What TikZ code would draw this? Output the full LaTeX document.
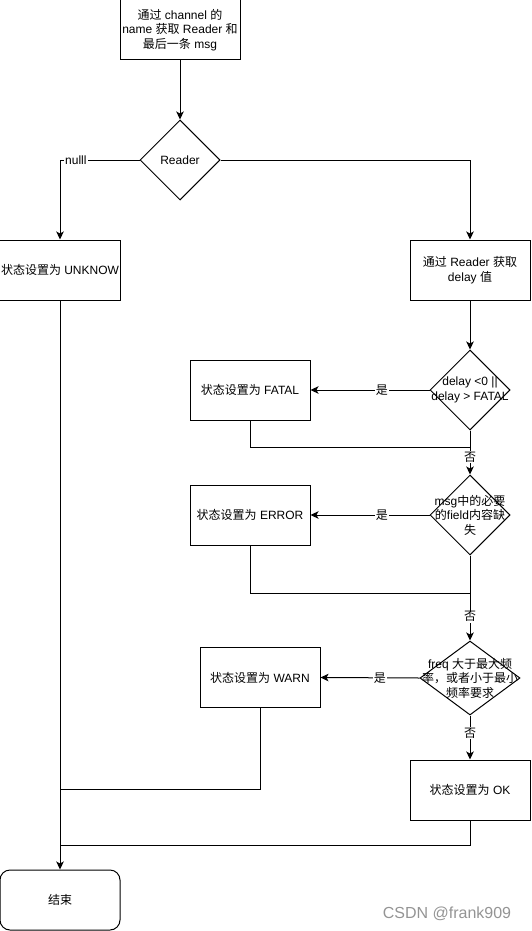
\documentclass[tikz,border=0pt]{standalone}
\usepackage{fontspec}
\setmainfont{Liberation Sans}
\newfontfamily\cjk{Noto Sans CJK SC}
\newcommand\zh[1]{{\cjk #1}}
\usetikzlibrary{shapes.geometric,arrows.meta}
\begin{document}
\begin{tikzpicture}[x=1pt,y=-1pt,
  font=\fontsize{12}{14.5}\selectfont,
  line width=1pt,
  >={Stealth[length=8pt,width=7.5pt,inset=2pt]},
  box/.style={draw, minimum width=120pt, minimum height=60pt, inner sep=2pt, align=center},
  dia/.style={draw, diamond, inner sep=0pt, minimum width=80pt, minimum height=80pt},
  txt/.style={align=center, inner sep=0pt},
  lbl/.style={fill=white, inner sep=1pt}]
\useasboundingbox (0,0) rectangle (531,931);
\node[box] (start) at (180,30) {\zh{通过} channel \zh{的}\\name \zh{获取} Reader \zh{和}\\\zh{最后一条} msg};
\node[dia] (reader) at (180,160) {};
\node[txt] (readerT) at (reader) {Reader};
\node[box] (unk) at (60,270) {\zh{状态设置为} UNKNOW};
\node[box] (getd) at (470,270) {\zh{通过} Reader \zh{获取}\\delay \zh{值}};
\node[dia] (d1) at (470,390) {};
\node[txt] (d1T) at (d1) {delay <0 ||\\delay > FATAL};
\node[box] (fatal) at (250,390) {\zh{状态设置为} FATAL};
\node[dia] (d2) at (470,515) {};
\node[txt] (d2T) at (d2) {msg\zh{中的必要}\\\zh{的}field\zh{内容缺}\\\zh{失}};
\node[box] (error) at (250,515) {\zh{状态设置为} ERROR};
\node[dia, minimum width=100pt, minimum height=74pt] (d3) at (470,678) {};
\node[txt] (d3T) at (d3) {freq \zh{大于最大频}\\\zh{率，或者小于最小}\\\zh{频率要求}};
\node[box] (warn) at (260,677.5) {\zh{状态设置为} WARN};
\node[box] (ok) at (470,790) {\zh{状态设置为} OK};
\node[box, rounded corners=10pt] (end) at (60,900) {\zh{结束}};
\coordinate (j1) at (470,447);
\coordinate (j2) at (470,593);
\coordinate (j3) at (60,789);
\coordinate (j4) at (60,845);
\node[text=black!42, font=\fontsize{16}{16}\selectfont] (wm) at (447,914) {CSDN @frank909};

\draw[->] (start) -- (reader);
\draw[->] (reader.west) -| node[lbl,pos=0.4]{nulll} (unk.north);
\draw[->] (reader.east) -| (getd.north);
\draw[->] (getd) -- (d1);
\draw[->] (d1.west) -- node[lbl,pos=0.4]{\zh{是}} (fatal.east);
\draw (fatal.south) |- (j1);
\draw[->] (d1.south) -- node[lbl,pos=0.6]{\zh{否}} (d2.north);
\draw[->] (d2.west) -- node[lbl,pos=0.4]{\zh{是}} (error.east);
\draw (error.south) |- (j2);
\draw[->] (d2.south) -- node[lbl,pos=0.72]{\zh{否}} (d3.north);
\draw[->] (d3.west) -- node[lbl,pos=0.4]{\zh{是}} (warn.east);
\draw[->] (d3.south) -- node[lbl,pos=0.4]{\zh{否}} (ok.north);
\draw (warn.south) |- (j3);
\draw (ok.south) |- (j4);
\draw[->] (unk) -- (end);
\end{tikzpicture}
\end{document}
